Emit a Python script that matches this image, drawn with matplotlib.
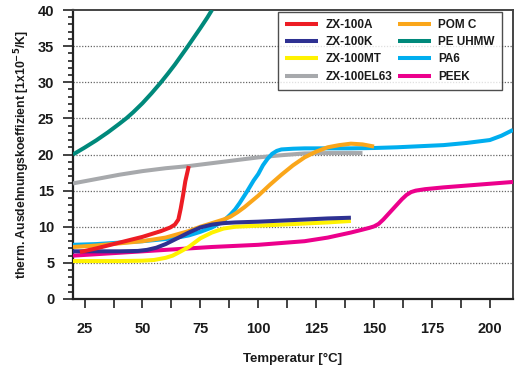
import matplotlib
matplotlib.use("Agg")
import matplotlib.pyplot as plt
from matplotlib.ticker import MultipleLocator, FixedLocator

plt.rcParams['font.family'] = ['Liberation Sans', 'DejaVu Sans']
plt.rcParams['font.weight'] = 'bold'

# ---- data ----
zx100a_x = [23, 30, 40, 50, 58, 62, 64, 65.5, 66.5, 67.5, 68.5, 70]
zx100a_y = [6.5, 7.0, 7.8, 8.6, 9.4, 9.9, 10.3, 11.0, 12.5, 14.3, 16.3, 18.4]

zx100k_x = [20, 30, 40, 48, 52, 56, 60, 65, 70, 75, 80, 85, 90, 100, 110, 120, 130, 140]
zx100k_y = [6.6, 6.6, 6.6, 6.65, 6.8, 7.1, 7.6, 8.4, 9.2, 9.9, 10.3, 10.5, 10.6, 10.7, 10.85, 11.0, 11.15, 11.25]

zx100mt_x = [20, 30, 40, 50, 55, 60, 63, 66, 70, 75, 80, 85, 90, 100, 110, 120, 130, 140]
zx100mt_y = [5.25, 5.25, 5.25, 5.3, 5.4, 5.7, 6.0, 6.5, 7.2, 8.4, 9.2, 9.75, 10.0, 10.15, 10.3, 10.45, 10.6, 10.8]

zx100el63_x = [20, 30, 40, 50, 60, 70, 80, 90, 100, 110, 120, 130, 145]
zx100el63_y = [16.0, 16.6, 17.2, 17.7, 18.1, 18.4, 18.8, 19.2, 19.6, 19.9, 20.15, 20.2, 20.2]

pomc_x = [20, 30, 40, 50, 60, 70, 75, 80, 85, 88, 91, 94, 97, 100, 105, 110, 115, 120, 125, 130, 135, 140, 145, 150]
pomc_y = [7.2, 7.4, 7.7, 8.0, 8.5, 9.4, 10.0, 10.5, 11.0, 11.4, 12.0, 12.7, 13.5, 14.3, 15.8, 17.2, 18.5, 19.6, 20.4, 21.0, 21.3, 21.5, 21.4, 21.1]

peuhmw_x = [20, 25, 30, 35, 40, 43, 46, 50, 54, 58, 61, 64, 67, 69, 72, 75, 78, 80]
peuhmw_y = [20.0, 20.95, 21.95, 23.05, 24.25, 25.0, 25.85, 27.1, 28.5, 30.0, 31.2, 32.45, 33.8, 34.7, 36.1, 37.5, 38.95, 40.0]

pa6_x = [20, 30, 40, 50, 60, 65, 70, 75, 80, 85, 88, 90, 92, 95, 98, 100, 102, 104, 106, 108, 110, 115, 120, 130, 140, 150,
         160, 170, 180, 190, 195, 200, 205, 210]
pa6_y = [7.5, 7.6, 7.8, 8.0, 8.3, 8.5, 8.8, 9.3, 9.9, 10.8, 11.7, 12.4, 13.3, 14.8, 16.4, 17.3, 18.5, 19.4, 20.1, 20.5, 20.7, 20.8, 20.85, 20.85, 20.85, 20.9,
         21.0, 21.15, 21.3, 21.6, 21.8, 22.0, 22.6, 23.4]

peek_x = [20, 40, 60, 80, 100, 110, 120, 130, 140, 145, 148, 150, 152, 154, 156, 158, 160, 162, 164, 166, 168, 172, 180, 190, 200, 210]
peek_y = [6.0, 6.4, 6.8, 7.2, 7.5, 7.75, 8.0, 8.5, 9.2, 9.6, 9.85, 10.05, 10.4, 11.0, 11.7, 12.4, 13.1, 13.8, 14.4, 14.8, 15.0, 15.2, 15.45, 15.7, 15.95, 16.2]

x_ticks = [25, 50, 75, 100, 125, 150, 175, 200]
y_ticks = [0, 5, 10, 15, 20, 25, 30, 35, 40]

fig = plt.figure(figsize=(5.24, 3.69), dpi=100)
ax = fig.add_axes([73/524, 1-299/369, 440/524, 289/369])

lw = 2.9
kw = dict(lw=lw, solid_capstyle='butt', solid_joinstyle='round')
h_el63, = ax.plot(zx100el63_x, zx100el63_y, color='#A7A9AC', label='ZX-100EL63', zorder=3, **kw)
h_peek, = ax.plot(peek_x, peek_y, color='#EC008C', label='PEEK', zorder=3, **kw)
h_pa6, = ax.plot(pa6_x, pa6_y, color='#00AEEF', label='PA6', zorder=3, **kw)
h_pom, = ax.plot(pomc_x, pomc_y, color='#FAA61A', label='POM C', zorder=3, **kw)
h_mt, = ax.plot(zx100mt_x, zx100mt_y, color='#FFF200', label='ZX-100MT', zorder=3, **kw)
h_k, = ax.plot(zx100k_x, zx100k_y, color='#2E3192', label='ZX-100K', zorder=3, **kw)
h_pe, = ax.plot(peuhmw_x, peuhmw_y, color='#00897B', label='PE UHMW', zorder=3, **kw)
h_a, = ax.plot(zx100a_x, zx100a_y, color='#ED1C24', label='ZX-100A', zorder=3, **kw)

ax.set_xlim(20, 210)
ax.set_ylim(0, 40)

for gy in [5, 10, 15, 20, 25, 30, 35]:
    ax.axhline(gy, color='#666666', lw=0.9, ls=(0, (1, 1.3)), zorder=1)

ax.xaxis.set_major_locator(FixedLocator(x_ticks))
ax.xaxis.set_minor_locator(MultipleLocator(12.5))
ax.yaxis.set_major_locator(FixedLocator(y_ticks))
ax.yaxis.set_minor_locator(MultipleLocator(1))

ax.tick_params(axis='x', which='both', direction='out', length=6.5, width=1.2, color='#222222')
ax.tick_params(axis='x', which='major', pad=10, labelsize=10.5)
ax.tick_params(axis='y', which='major', direction='out', length=7.5, width=1.2, pad=6, labelsize=10.5, color='#222222')
ax.tick_params(axis='y', which='minor', direction='out', length=3.8, width=1.2, color='#222222')

for lab in ax.get_xticklabels() + ax.get_yticklabels():
    lab.set_fontweight('bold')
    lab.set_color('#1a1a1a')

for s in ['left', 'bottom']:
    ax.spines[s].set_linewidth(1.6)
    ax.spines[s].set_color('#222222')
for s in ['top', 'right']:
    ax.spines[s].set_linewidth(1.4)
    ax.spines[s].set_color('#444444')

ax.set_xlabel('Temperatur [°C]', fontsize=9.5, fontweight='bold', labelpad=12, color='#1a1a1a')
ax.set_ylabel('therm. Ausdehnungskoeffizient [1x10$^{\\mathbf{-5}}$/K]', fontsize=8.8, fontweight='bold', labelpad=4, color='#1a1a1a')

handles = [h_a, h_k, h_mt, h_el63, h_pom, h_pe, h_pa6, h_peek]
leg = ax.legend(handles=handles, labels=[h.get_label() for h in handles], ncol=2,
                loc='upper left', bbox_to_anchor=(278/524, 1-11.7/369), bbox_transform=fig.transFigure,
                prop={'weight': 'bold', 'size': 8.5}, frameon=True, fancybox=False,
                edgecolor='#222222', handlelength=2.8, handletextpad=0.6, columnspacing=0.5,
                labelspacing=0.45, borderpad=0.6, borderaxespad=0)
leg.get_frame().set_linewidth(1.0)
for t in leg.get_texts():
    t.set_color('#1a1a1a')
leg.set_zorder(5)

fig.savefig('out.png', dpi=100)
